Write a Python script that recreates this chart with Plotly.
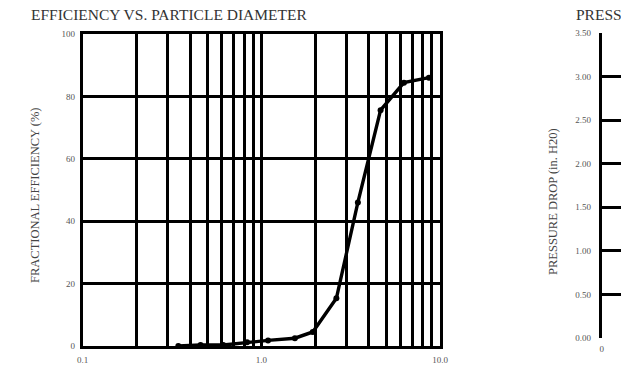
import plotly.graph_objects as go

# Efficiency vs particle diameter (left chart)
diameter = [0.343, 0.457, 0.612, 0.832, 1.09, 1.54, 1.94, 2.63, 3.47, 4.65, 6.28, 8.67]
efficiency = [0.0, 0.3, 0.3, 1.2, 1.8, 2.5, 4.5, 15.3, 46.0, 75.6, 84.4, 86.0]

x_major = [0.1, 1.0, 10.0]
x_major_labels = ["0.1", "1.0", "10.0"]
x_minor = [0.2, 0.3, 0.4, 0.5, 0.6, 0.7, 0.8, 0.9, 2, 3, 4, 5, 6, 7, 8, 9]
y_ticks = [0, 20, 40, 60, 80, 100]

# Pressure drop chart (right, mostly cut off)
p_ticks = [0.0, 0.5, 1.0, 1.5, 2.0, 2.5, 3.0, 3.5]
p_tick_labels = ["0.00", "0.50", "1.00", "1.50", "2.00", "2.50", "3.00", "3.50"]
flow_ticks = [0]

W, H = 621, 369
T, B = 33, 23
PH = H - T - B  # plot-area height in px
FONT = "Liberation Serif"
GW = 2.8


def py(pix):
    """pixel row -> paper y"""
    return (H - B - pix) / PH


fig = go.Figure()
fig.add_trace(go.Scatter(
    x=diameter, y=efficiency, mode="lines+markers",
    line=dict(color="black", width=3.4),
    marker=dict(color="black", size=6),
    xaxis="x", yaxis="y", showlegend=False, cliponaxis=False,
))
# invisible trace for right axes
fig.add_trace(go.Scatter(x=[0], y=[0], mode="markers", marker=dict(opacity=0),
                         xaxis="x2", yaxis="y2", showlegend=False, hoverinfo="skip"))

tick_font = dict(family=FONT, size=9, color="#555555")

fig.update_layout(
    width=W, height=H, autosize=False,
    margin=dict(l=0, r=0, t=T, b=B, pad=0, autoexpand=False),
    paper_bgcolor="white", plot_bgcolor="white",
    xaxis=dict(
        type="log", range=[-1, 1], domain=[82.7 / W, 440 / W], automargin=False,
        tickvals=x_major, ticktext=x_major_labels, tickfont=tick_font,
        showgrid=True, gridcolor="black", gridwidth=GW,
        minor=dict(tickvals=x_minor, showgrid=True, gridcolor="black", gridwidth=GW, ticks=""),
        showline=True, linecolor="black", linewidth=GW, mirror=True,
        zeroline=False, ticks="", ticklabelstandoff=3,
    ),
    yaxis=dict(
        range=[0, 100], domain=[0, py(34)], tickvals=y_ticks, tickfont=tick_font,
        automargin=False,
        showgrid=True, gridcolor="black", gridwidth=GW,
        showline=True, linecolor="black", linewidth=GW, mirror=True,
        zeroline=False, ticks="", ticklabelstandoff=3,
    ),
    xaxis2=dict(
        range=[0, 10], domain=[601.7 / W, 1.0], anchor="y2", automargin=False,
        tickvals=flow_ticks, tickfont=tick_font,
        showgrid=False, showline=False, zeroline=False, ticks="", ticklabelstandoff=4,
    ),
    yaxis2=dict(
        range=[0, 3.5], domain=[py(338), 1.0], anchor="x2", automargin=False,
        tickvals=p_ticks, ticktext=p_tick_labels, tickfont=tick_font,
        showgrid=True, gridcolor="black", gridwidth=GW,
        showline=True, linecolor="black", linewidth=GW,
        zeroline=False, ticks="", ticklabelstandoff=6,
    ),
    annotations=[
        dict(text="EFFICIENCY VS. PARTICLE DIAMETER", x=29 / W, y=py(15),
             xref="paper", yref="paper", xanchor="left", yanchor="middle",
             showarrow=False, font=dict(family=FONT, size=15.5, color="#333333")),
        dict(text="PRESSURE DROP VS. FLOW RATE", x=574 / W, y=py(15),
             xref="paper", yref="paper", xanchor="left", yanchor="middle",
             showarrow=False, font=dict(family=FONT, size=15.5, color="#333333")),
        dict(text="FRACTIONAL EFFICIENCY (%)", x=35 / W, y=py(196),
             xref="paper", yref="paper", xanchor="center", yanchor="middle",
             textangle=-90, showarrow=False,
             font=dict(family=FONT, size=12.5, color="#444444")),
        dict(text="PRESSURE DROP (in. H20)", x=553 / W, y=py(202),
             xref="paper", yref="paper", xanchor="center", yanchor="middle",
             textangle=-90, showarrow=False,
             font=dict(family=FONT, size=12.5, color="#444444")),
    ],
)

fig.write_html(
    "out.html",
    config={"responsive": False, "displayModeBar": False},
    post_script=(
        "document.body.style.margin='0';"
        "document.body.style.overflow='hidden';"
    ),
)
